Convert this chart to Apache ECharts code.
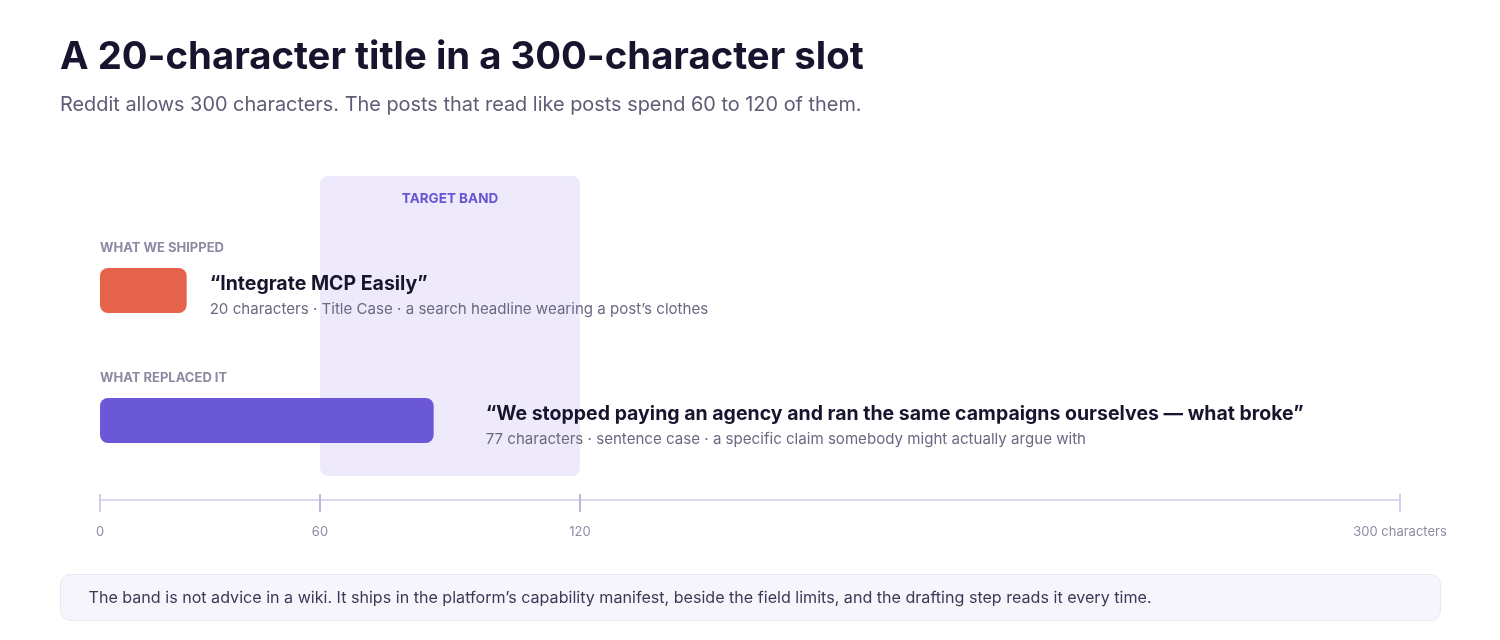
<!DOCTYPE html>
<html>
<head>
<meta charset="utf-8">
<script src="https://cdn.jsdelivr.net/npm/echarts@6/dist/echarts.min.js"></script>
<style>
html,body{margin:0;padding:0;background:#ffffff;}
#chart{width:1500px;height:640px;}
</style>
</head>
<body>
<div id="chart"></div>
<script>
// ---- data ----
const titleText = 'A 20-character title in a 300-character slot';
const subtitleText = 'Reddit allows 300 characters. The posts that read like posts spend 60 to 120 of them.';
const footnoteText = 'The band is not advice in a wiki. It ships in the platform’s capability manifest, beside the field limits, and the drafting step reads it every time.';
const groupLabels = ['WHAT WE SHIPPED', 'WHAT REPLACED IT'];
const postTitles = ['“Integrate MCP Easily”', '“We stopped paying an agency and ran the same campaigns ourselves — what broke”'];
const postNotes = ['20 characters · Title Case · a search headline wearing a post’s clothes', '77 characters · sentence case · a specific claim somebody might actually argue with'];
const charCounts = [20, 77];
const bandRange = [60, 120];
const bandLabel = 'TARGET BAND';
const charLimit = 300;
const endTicks = [0, 300];
const bandTicks = [60, 120];
const limitLabel = '300 characters';

// ---- style ----
const FONT = 'Inter, "Noto Sans", sans-serif';
const barColors = ['#E5634B', '#6B58D6'];
const labelGaps = [23, 52];
const ink = '#17152E';
const muted = '#6B6980';
const axisGray = '#8E8CA3';

const chart = echarts.init(document.getElementById('chart'), null, {renderer: 'canvas'});

const option = {
  animation: false,
  backgroundColor: '#ffffff',
  textStyle: {fontFamily: FONT},
  grid: [
    {left: 100, width: 1300, top: 225.5, height: 260},
    {left: 60, width: 1300, top: 176, height: 300}
  ],
  xAxis: [
    { // axis line (bar scale)
      gridIndex: 0, type: 'value', min: 0, max: charLimit, position: 'bottom', offset: 14.5,
      axisLine: {show: true, onZero: false, lineStyle: {color: '#DCD9EE', width: 2}},
      axisTick: {show: false}, axisLabel: {show: false}, splitLine: {show: false}
    },
    { // end ticks
      gridIndex: 0, type: 'value', min: 0, max: charLimit, position: 'bottom', offset: 8.5,
      axisLine: {show: false, onZero: false},
      axisTick: {show: true, customValues: endTicks, length: 18, lineStyle: {color: '#D3CFE6', width: 2}},
      axisLabel: {show: true, customValues: endTicks, margin: 32, fontSize: 13, color: axisGray, fontFamily: FONT,
        formatter: v => (v === charLimit ? limitLabel : String(v))},
      splitLine: {show: false}
    },
    { // band ticks
      gridIndex: 1, type: 'value', min: 0, max: charLimit, position: 'bottom', offset: 18,
      axisLine: {show: false, onZero: false},
      axisTick: {show: true, customValues: bandTicks, length: 18, lineStyle: {color: '#BCB7DB', width: 2}},
      axisLabel: {show: true, customValues: bandTicks, margin: 32, fontSize: 13, color: axisGray, fontFamily: FONT},
      splitLine: {show: false}
    }
  ],
  yAxis: [
    {
      gridIndex: 0, type: 'category', data: groupLabels, inverse: true,
      axisLine: {show: false}, axisTick: {show: false}, splitLine: {show: false},
      axisLabel: {show: true, inside: true, margin: 0, align: 'left', verticalAlign: 'bottom',
        padding: [0, 0, 36, 0], fontSize: 13, fontWeight: 'bold', color: '#8C8AA3', fontFamily: FONT}
    },
    {gridIndex: 1, type: 'value', min: 0, max: 1, show: false}
  ],
  series: [
    {
      type: 'custom', xAxisIndex: 2, yAxisIndex: 1, silent: true, z: 0,
      data: [bandRange],
      renderItem: (params, api) => {
        const p0 = api.coord([api.value(0), 1]);
        const p1 = api.coord([api.value(1), 0]);
        return {
          type: 'group',
          children: [
            {type: 'rect', shape: {x: p0[0], y: p0[1], width: p1[0] - p0[0], height: p1[1] - p0[1], r: 8},
              style: {fill: '#EEEAFC'}},
            {type: 'text', style: {text: bandLabel, x: (p0[0] + p1[0]) / 2, y: p0[1] + 23, align: 'center',
              verticalAlign: 'middle', fill: '#6A55D0', font: 'bold 13.5px ' + FONT}}
          ]
        };
      }
    },
    {
      type: 'bar', xAxisIndex: 0, yAxisIndex: 0, barWidth: 45, z: 3, silent: true,
      itemStyle: {borderRadius: 8},
      data: charCounts.map((v, i) => ({
        value: v,
        itemStyle: {color: barColors[i]},
        label: {distance: labelGaps[i]}
      })),
      label: {
        show: true, position: 'right', offset: [0, 6.5], align: 'left',
        formatter: p => '{t|' + postTitles[p.dataIndex] + '}\n{s|' + postNotes[p.dataIndex] + '}',
        rich: {
          t: {fontSize: 19.5, fontWeight: 'bold', color: ink, lineHeight: 25, fontFamily: FONT},
          s: {fontSize: 15.1, color: muted, lineHeight: 25, fontFamily: FONT}
        }
      }
    }
  ],
  graphic: [
    {type: 'text', left: 60, top: 38, style: {text: titleText, font: 'bold 38.3px ' + FONT, fill: ink}},
    {type: 'text', left: 60, top: 95, style: {text: subtitleText, font: '19.9px ' + FONT, fill: '#5F5D75'}},
    {type: 'group', left: 60, top: 574, children: [
      {type: 'rect', shape: {x: 0, y: 0, width: 1380, height: 46, r: 10},
        style: {fill: '#F6F5FC', stroke: '#E9E7F4', lineWidth: 1}},
      {type: 'text', x: 28, y: 24, style: {text: footnoteText, font: '16.1px ' + FONT, fill: '#3B3956', verticalAlign: 'middle'}}
    ]}
  ]
};
chart.setOption(option);
</script>
</body>
</html>
